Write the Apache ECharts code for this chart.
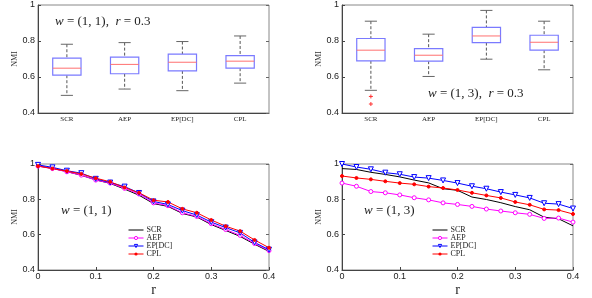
<!DOCTYPE html>
<html><head><meta charset="utf-8">
<script src="https://cdn.jsdelivr.net/npm/echarts@6/dist/echarts.min.js"></script>
<style>html,body{margin:0;padding:0;background:#fff}#c{width:592px;height:298px}</style>
</head><body><div id="c"></div>
<script>
const categories = ['SCR', 'AEP', 'EP[DC]', 'CPL'];
// [min, q1, median, q3, max]
const box11 = [
  [0.498, 0.610, 0.649, 0.705, 0.782],
  [0.533, 0.618, 0.670, 0.710, 0.791],
  [0.524, 0.634, 0.682, 0.727, 0.797],
  [0.566, 0.649, 0.688, 0.719, 0.828]
];
const box13 = [
  [0.526, 0.690, 0.749, 0.814, 0.910],
  [0.603, 0.688, 0.721, 0.758, 0.838],
  [0.699, 0.791, 0.828, 0.876, 0.970],
  [0.640, 0.749, 0.793, 0.832, 0.910]
];
const outliers13 = [[0, 0.492], [0, 0.450]];
const rValues = [0, 0.025, 0.05, 0.075, 0.1, 0.125, 0.15, 0.175, 0.2, 0.225, 0.25, 0.275, 0.3, 0.325, 0.35, 0.375, 0.4];
const seriesNames = ['SCR', 'AEP', 'EP[DC]', 'CPL'];
// w = (1,1)
const scr11 = [0.990, 0.975, 0.957, 0.936, 0.910, 0.890, 0.858, 0.823, 0.776, 0.760, 0.720, 0.700, 0.657, 0.624, 0.590, 0.546, 0.505];
const aep11 = [0.988, 0.974, 0.956, 0.937, 0.909, 0.892, 0.862, 0.830, 0.780, 0.764, 0.724, 0.703, 0.662, 0.629, 0.596, 0.550, 0.510];
const ep11  = [0.995, 0.981, 0.962, 0.948, 0.916, 0.895, 0.872, 0.836, 0.788, 0.771, 0.736, 0.711, 0.671, 0.640, 0.610, 0.556, 0.515];
const cpl11 = [0.988, 0.974, 0.960, 0.944, 0.920, 0.899, 0.867, 0.837, 0.795, 0.785, 0.746, 0.724, 0.683, 0.648, 0.620, 0.570, 0.526];
// w = (1,3)
const scr13 = [0.974, 0.969, 0.953, 0.941, 0.927, 0.909, 0.893, 0.860, 0.851, 0.813, 0.799, 0.781, 0.759, 0.741, 0.699, 0.690, 0.650];
const aep13 = [0.892, 0.874, 0.844, 0.837, 0.825, 0.809, 0.797, 0.780, 0.771, 0.760, 0.745, 0.734, 0.724, 0.715, 0.692, 0.694, 0.671];
const ep13  = [1.000, 0.983, 0.970, 0.951, 0.942, 0.926, 0.920, 0.907, 0.892, 0.874, 0.860, 0.841, 0.825, 0.808, 0.778, 0.773, 0.748];
const cpl13 = [0.932, 0.921, 0.913, 0.902, 0.892, 0.885, 0.872, 0.864, 0.853, 0.837, 0.822, 0.808, 0.785, 0.769, 0.743, 0.739, 0.717];

const serif = "'Liberation Serif', 'DejaVu Serif', serif";
const sans = "'Liberation Sans', 'DejaVu Sans', sans-serif";

function renderBox(params, api) {
  const x = api.value(0);
  const pMin = api.coord([x, api.value(1)]);
  const pQ1 = api.coord([x, api.value(2)]);
  const pMed = api.coord([x, api.value(3)]);
  const pQ3 = api.coord([x, api.value(4)]);
  const pMax = api.coord([x, api.value(5)]);
  const band = api.size([1, 0])[0];
  const bw = band * 0.49, cw = band * 0.21;
  const cx = pMed[0];
  const dash = { stroke: '#555', lineWidth: 1, lineDash: [3, 2] };
  const solidGray = { stroke: '#666', lineWidth: 1 };
  return { type: 'group', children: [
    { type: 'line', shape: { x1: cx, y1: pMax[1], x2: cx, y2: pQ3[1] }, style: dash },
    { type: 'line', shape: { x1: cx, y1: pQ1[1], x2: cx, y2: pMin[1] }, style: dash },
    { type: 'line', shape: { x1: cx - cw / 2, y1: pMax[1], x2: cx + cw / 2, y2: pMax[1] }, style: solidGray },
    { type: 'line', shape: { x1: cx - cw / 2, y1: pMin[1], x2: cx + cw / 2, y2: pMin[1] }, style: solidGray },
    { type: 'rect', shape: { x: cx - bw / 2, y: pQ3[1], width: bw, height: pQ1[1] - pQ3[1] }, style: { fill: '#fff', stroke: '#7a7aff', lineWidth: 1.2 } },
    { type: 'line', shape: { x1: cx - bw / 2, y1: pMed[1], x2: cx + bw / 2, y2: pMed[1] }, style: { stroke: '#ff7070', lineWidth: 1 } }
  ]};
}
function renderPlus(params, api) {
  const p = api.coord([api.value(0), api.value(1)]);
  const s = 2;
  return { type: 'group', children: [
    { type: 'line', shape: { x1: p[0] - s, y1: p[1], x2: p[0] + s, y2: p[1] }, style: { stroke: '#ff3030', lineWidth: 1 } },
    { type: 'line', shape: { x1: p[0], y1: p[1] - s, x2: p[0], y2: p[1] + s }, style: { stroke: '#ff3030', lineWidth: 1 } }
  ]};
}

const grids = [
  { left: 38, top: 5, width: 231, height: 108 },
  { left: 342, top: 5, width: 231, height: 108 },
  { left: 38, top: 164, width: 231, height: 114 },
  { left: 342, top: 164, width: 231, height: 114 }
].map(g => Object.assign({ show: true, borderColor: '#888', borderWidth: 1, backgroundColor: '#fff' }, g));

function yAx(gi) {
  return {
    type: 'value', gridIndex: gi, min: 0.4, max: 1, interval: 0.2,
    name: 'NMI', nameLocation: 'middle', nameGap: 13,
    nameTextStyle: { fontFamily: serif, fontSize: 8, color: '#333' },
    axisLine: { show: true, lineStyle: { color: '#444' } },
    axisTick: { show: true, inside: true, length: 3, lineStyle: { color: '#444' } },
    axisLabel: { margin: 3, fontFamily: sans, fontSize: 9, color: '#222' },
    splitLine: { show: false }
  };
}
function yAxRight(gi) {
  return {
    type: 'value', gridIndex: gi, position: 'right', min: 0.4, max: 1, interval: 0.2,
    axisLine: { show: false },
    axisTick: { show: true, inside: true, length: 3, lineStyle: { color: '#666' } },
    axisLabel: { show: false }, splitLine: { show: false }
  };
}
function catAx(gi) {
  return {
    type: 'category', gridIndex: gi, data: categories, boundaryGap: true,
    axisLine: { show: true, lineStyle: { color: '#444' } },
    axisTick: { show: false },
    axisLabel: { margin: 3, fontFamily: serif, fontSize: 7, color: '#222' }
  };
}
function rAx(gi) {
  return {
    type: 'value', gridIndex: gi, min: 0, max: 0.4, interval: 0.1,
    name: 'r', nameLocation: 'middle', nameGap: 13,
    nameTextStyle: { fontFamily: serif, fontSize: 14, color: '#222' },
    axisLine: { show: true, lineStyle: { color: '#444' } },
    axisTick: { show: true, inside: true, length: 3, lineStyle: { color: '#444' } },
    axisLabel: { margin: 2, fontFamily: sans, fontSize: 9, color: '#222' },
    splitLine: { show: false }
  };
}

function lineSeries(gi, name, vals, color, symbol, size, filled, rotate) {
  return {
    type: 'line', name: name, xAxisIndex: gi, yAxisIndex: gi,
    data: rValues.map((r, i) => [r, vals[i]]),
    symbol: symbol, symbolSize: size, symbolRotate: rotate || 0, showSymbol: symbol !== 'none',
    lineStyle: { color: color, width: 1 },
    itemStyle: { color: filled ? color : '#fff', borderColor: color, borderWidth: 1 },
    emphasis: { disabled: true }, animation: false, z: name === 'SCR' ? 2 : 3
  };
}

function legendAt(left) {
  return {
    left: left, top: 226, orient: 'vertical', itemGap: 0, itemWidth: 15, itemHeight: 4,
    data: [
      { name: 'SCR', itemStyle: { color: 'transparent', borderColor: 'transparent', borderWidth: 0 }, lineStyle: { width: 1 } },
      { name: 'AEP', itemStyle: { color: '#fff', borderColor: '#ff00ff', borderWidth: 1 }, lineStyle: { width: 1 } },
      { name: 'EP[DC]', itemStyle: { color: '#fff', borderColor: '#0000ff', borderWidth: 1 }, lineStyle: { width: 1 } },
      { name: 'CPL', itemStyle: { color: '#ff0000', borderColor: '#ff0000', borderWidth: 0 }, lineStyle: { width: 1 } }
    ],
    textStyle: { fontFamily: serif, fontSize: 8, color: '#222', lineHeight: 7.7, padding: [0, 0, 0, -2] },
    padding: 0
  };
}

const mathRich = { i: { fontStyle: 'italic', fontSize: 13, fontFamily: serif } };
const option = {
  animation: false,
  grid: grids,
  xAxis: [catAx(0), catAx(1), rAx(2), rAx(3)],
  yAxis: [yAx(0), yAx(1), yAx(2), yAx(3), yAxRight(0), yAxRight(1), yAxRight(2), yAxRight(3)],
  legend: [legendAt(128), legendAt(432)],
  series: [
    { type: 'custom', xAxisIndex: 0, yAxisIndex: 0, renderItem: renderBox, encode: { x: 0, y: [1, 2, 3, 4, 5] }, data: box11.map((d, i) => [i].concat(d)) },
    { type: 'custom', xAxisIndex: 1, yAxisIndex: 1, renderItem: renderBox, encode: { x: 0, y: [1, 2, 3, 4, 5] }, data: box13.map((d, i) => [i].concat(d)) },
    { type: 'custom', xAxisIndex: 1, yAxisIndex: 1, renderItem: renderPlus, encode: { x: 0, y: 1 }, data: outliers13 },
    lineSeries(2, 'SCR', scr11, '#000', 'none', 0, false),
    lineSeries(2, 'AEP', aep11, '#ff00ff', 'circle', 4, false),
    lineSeries(2, 'EP[DC]', ep11, '#0000ff', 'triangle', 5, false, 180),
    lineSeries(2, 'CPL', cpl11, '#ff0000', 'circle', 3, true),
    lineSeries(3, 'SCR', scr13, '#000', 'none', 0, false),
    lineSeries(3, 'AEP', aep13, '#ff00ff', 'circle', 4, false),
    lineSeries(3, 'EP[DC]', ep13, '#0000ff', 'triangle', 5, false, 180),
    lineSeries(3, 'CPL', cpl13, '#ff0000', 'circle', 3, true)
  ],
  graphic: [
    { type: 'text', left: 55, top: 15, style: { text: '{i|w} = (1, 1),  {i|r} = 0.3', font: '13px ' + serif, fill: '#222', rich: mathRich } },
    { type: 'text', left: 428, top: 87, style: { text: '{i|w} = (1, 3),  {i|r} = 0.3', font: '13px ' + serif, fill: '#222', rich: mathRich } },
    { type: 'text', left: 61, top: 204, style: { text: '{i|w} = (1, 1)', font: '13px ' + serif, fill: '#222', rich: mathRich } },
    { type: 'text', left: 364, top: 204, style: { text: '{i|w} = (1, 3)', font: '13px ' + serif, fill: '#222', rich: mathRich } }
  ]
};
const chart = echarts.init(document.getElementById('c'), null, { renderer: 'canvas' });
chart.setOption(option);
</script></body></html>
